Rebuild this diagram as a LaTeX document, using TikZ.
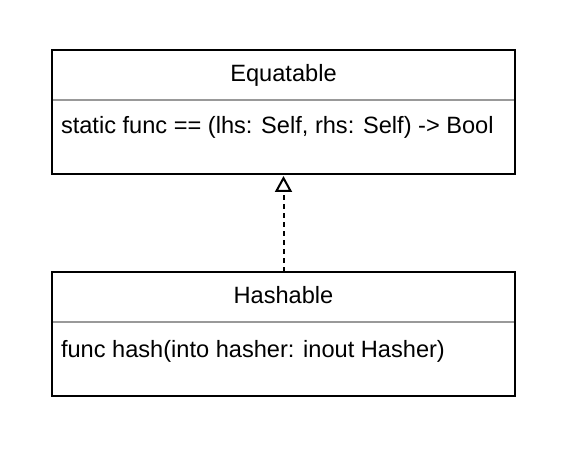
\documentclass[tikz,border=0pt]{standalone}
\usepackage{fontspec}
\setmainfont{Liberation Sans}
\usetikzlibrary{arrows.meta,positioning}

\begin{document}
\begin{tikzpicture}[x=1pt,y=1pt,line width=2pt,
  title/.style={rectangle,minimum width=461pt,minimum height=48pt,inner sep=0pt,text height=17.5pt,text depth=5pt,font=\fontsize{23.6}{28}\selectfont},
  body/.style={rectangle,minimum width=461pt,minimum height=72pt,inner sep=0pt},
  method/.style={anchor=base west,inner sep=0pt,font=\fontsize{23.6}{28}\selectfont},
  divider/.style={draw=gray!80,line width=1.5pt}]
\useasboundingbox (0,0) rectangle (578,450);
\node [title] (equatable) at (283.5,375) {Equatable};
\node [body,below=0pt of equatable] (equatablebody) {};
\node [method] (equatablemethod) at ([shift={(8pt,-34pt)}]equatablebody.north west) {static func == (lhs: Self, rhs: Self) -> Bool};
\node [title] (hashable) at (283.5,153) {Hashable};
\node [body,below=0pt of hashable] (hashablebody) {};
\node [method] (hashablemethod) at ([shift={(8pt,-35pt)}]hashablebody.north west) {func hash(into hasher: inout Hasher)};

\draw [divider] (equatable.south west) -- (equatable.south east);
\draw [divider] (hashable.south west) -- (hashable.south east);
\draw (equatable.north west) rectangle (equatablebody.south east);
\draw (hashable.north west) rectangle (hashablebody.south east);
\draw [dash pattern=on 5pt off 4pt,-{Triangle[open,length=16pt,width=17pt,line width=2pt]},shorten >=2pt] (hashable.north) -- (equatablebody.south);
\end{tikzpicture}
\end{document}
